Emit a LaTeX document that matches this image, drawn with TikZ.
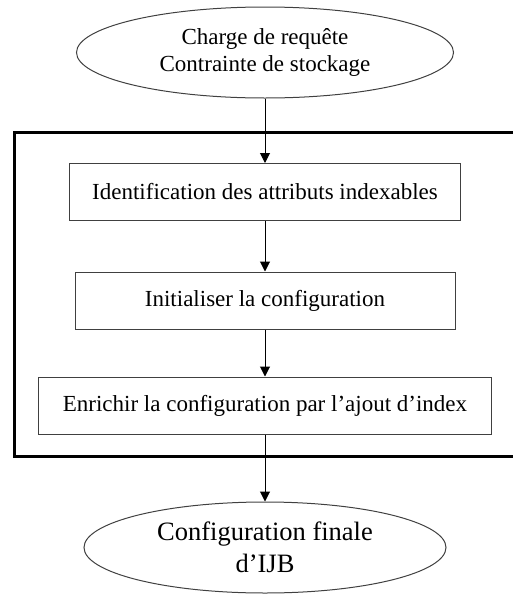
\documentclass[tikz,border=0pt]{standalone}
\usepackage{fontspec}
\setmainfont{Liberation Serif}
\usetikzlibrary{shapes.geometric,arrows.meta}
\begin{document}
\begin{tikzpicture}[x=1pt, y=-1pt,
    etape/.style={draw=black!75, line width=1pt, minimum height=57pt, inner sep=0pt, font=\fontsize{23}{27}\selectfont},
    donnee/.style={ellipse, draw=black!75, line width=1pt, inner sep=0pt, minimum height=91pt, align=center},
    fleche/.style={-{Triangle[length=10pt,width=10pt]}, line width=1pt}]
    \useasboundingbox (0,0) rectangle (512,595);

    \draw[line width=3pt] (14.5,132) rectangle (530,456.5);

    \node[donnee, minimum width=377pt, font=\fontsize{23}{27}\selectfont] (charge) at (265,52.5) {Charge de requête\\Contrainte de stockage};
    \node[etape, minimum width=391pt] (ident) at (265,192) {Identification des attributs indexables};
    \node[etape, minimum width=380pt] (init) at (265,300.5) {Initialiser la configuration};
    \node[etape, minimum width=453pt] (enrich) at (265,405.5) {Enrichir la configuration par l’ajout d’index};
    \node[donnee, minimum width=362pt, font=\fontsize{26.5}{32}\selectfont] (final) at (265,547.5) {Configuration finale\\d’IJB};

    \draw[fleche] (charge) -- (ident);
    \draw[fleche] (ident) -- (init);
    \draw[fleche] (init) -- (enrich);
    \draw[fleche] (enrich) -- (final);

  \end{tikzpicture}
\end{document}
